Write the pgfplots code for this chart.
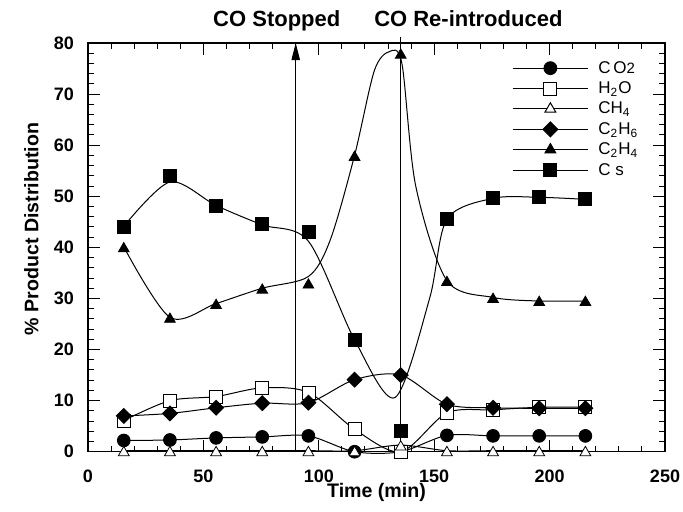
\documentclass[border=0pt]{standalone}
\usepackage{pgfplots}
\pgfplotsset{compat=1.18}
\usepackage{pgfplotstable}
\usepackage{fontspec}
\setmainfont{Liberation Sans}
\usetikzlibrary{arrows.meta}

% product distribution, measured points
\pgfplotstableread{
t     co2  h2o  ch4  c2h6  c2h4  cs
15.5  2.2  6.1  0.2  7.0   40.1  44.1
35.5  2.3  10.0 0.2  7.5   26.3  54.0
55.5  2.7  10.8 0.2  8.6   29.0  48.2
75.5  2.9  12.5 0.2  9.5   32.0  44.5
95.5  3.1  11.6 0.2  9.6   33.0  43.0
115.5 0.0  4.4  0.2  14.1  58.0  21.9
135.5 0.0  0.0  1.3  15.0  78.0  4.0
155.5 3.2  7.6  0.2  9.3   33.5  45.5
175.5 3.1  8.2  0.2  8.6   30.2  49.6
195.5 3.1  8.7  0.2  8.5   29.6  49.8
215.5 3.1  8.7  0.2  8.5   29.6  49.4
}\products

% smoothed trend curves for C2H4 and carbon
\pgfplotstableread{
t     y
15.5  40.1
35.5  26.3
55.5  29.0
75.5  32.0
95.5  34.3
105   41.5
115.5 58.0
124   74.5
130.5 78.3
136   76.0
142   52.0
155.5 33.5
175.5 30.2
195.5 29.5
215.5 29.5
}\ethylenecurve

\pgfplotstableread{
t     y
15.5  44.1
35.5  52.8
55.5  48.2
75.5  44.4
95.5  41.2
115.5 21.9
133   10.6
148   30.0
155.5 45.5
175.5 49.6
195.5 49.8
215.5 49.4
}\carboncurve

\tikzset{
  curve/.style={black, line width=0.5pt, smooth, no markers},
  mk/.style={only marks, mark options={solid, draw=black, line width=0.5pt}},
}

\begin{document}
\begin{tikzpicture}
\useasboundingbox (-44pt,-29.65pt) rectangle (297.5pt,225.85pt);
\begin{axis}[
  anchor=south west, at={(0,0)},
  width=288.5pt, height=204.35pt, scale only axis,
  xmin=0, xmax=250, ymin=0, ymax=80,
  xtick={0,50,...,250}, ytick={0,10,...,80},
  minor x tick num=4, minor y tick num=4,
  tick align=inside,
  major tick length=6pt, minor tick length=3pt,
  tick style={black, line width=0.5pt},
  axis line style={line width=0.6pt},
  ticklabel style={font=\fontsize{9}{10}\selectfont\bfseries},
  /pgf/number format/assume math mode=true,
  xticklabel style={yshift=-5.5pt},
  yticklabel style={xshift=-3.5pt},
  xlabel={Time (min)}, ylabel={\% Product Distribution},
  label style={font=\fontsize{9.8}{11}\selectfont\bfseries},
  xlabel style={at={(axis description cs:0.5,-0.099)}, anchor=center},
  ylabel style={at={(axis description cs:-0.098,0.545)}, anchor=center},
  clip=false,
  legend style={draw=none, fill=none, at={(axis cs:183.7,76.8)}, anchor=north west,
    inner sep=0pt, row sep=1.8pt, column sep=5pt,
    font=\fontsize{8.5}{10}\selectfont,
    nodes={inner xsep=0pt, inner ysep=0pt, text height=6.7pt, text depth=1.7pt}},
  legend cell align=left,
  legend image code/.code={\draw[mark repeat=2,mark phase=2,#1]
    plot coordinates {(0pt,0pt) (18.75pt,0pt) (37.5pt,0pt)};},
]
% legend entries
\addlegendimage{black, line width=0.5pt, mark=*, mark size=3.2pt, mark options={solid, fill=black}}
\addlegendentry{C\,O{\fontsize{7.5}{8}\selectfont 2}}
\addlegendimage{black, line width=0.5pt, mark=square*, mark size=3.25pt, mark options={solid, fill=white}}
\addlegendentry{H\textsubscript{2}O}
\addlegendimage{black, line width=0.5pt, mark=triangle*, mark size=3.1pt, mark options={solid, fill=white}}
\addlegendentry{CH\textsubscript{4}}
\addlegendimage{black, line width=0.5pt, mark=square*, mark size=2.65pt, mark options={solid, fill=black, rotate=45}}
\addlegendentry{C\textsubscript{2}H\textsubscript{6}}
\addlegendimage{black, line width=0.5pt, mark=triangle*, mark size=3.1pt, mark options={solid, fill=black}}
\addlegendentry{C\textsubscript{2}H\textsubscript{4}}
\addlegendimage{black, line width=0.5pt, mark=square*, mark size=3.25pt, mark options={solid, fill=black}}
\addlegendentry{C s}

% CO switched off / back on
\addplot[forget plot, black, line width=0.5pt, -{Triangle[length=8.5pt,width=4.2pt]}]
  coordinates {(90,0) (90,80)};
\addplot[forget plot, black, line width=0.5pt] coordinates {(135.5,0) (135.5,81.2)};

% trend curves
\addplot[forget plot, curve] table[x=t, y=co2] {\products};
\addplot[forget plot, curve] table[x=t, y=h2o] {\products};
\addplot[forget plot, curve] table[x=t, y=ch4] {\products};
\addplot[forget plot, curve] table[x=t, y=c2h6] {\products};
\addplot[forget plot, curve] table[x=t, y=y] {\ethylenecurve};
\addplot[forget plot, curve] table[x=t, y=y] {\carboncurve};

% measured points
\addplot[forget plot, mk, mark=*, mark size=3.2pt, mark options={fill=black}]
  table[x=t, y=co2] {\products};
\addplot[forget plot, mk, mark=square*, mark size=3.25pt, mark options={fill=white}]
  table[x=t, y=h2o] {\products};
\addplot[forget plot, mk, mark=triangle*, mark size=3.1pt, mark options={fill=white, yshift=-0.93pt}]
  table[x=t, y=ch4] {\products};
\addplot[forget plot, mk, mark=square*, mark size=2.65pt, mark options={fill=black, rotate=45}]
  table[x=t, y=c2h6] {\products};
\addplot[forget plot, mk, mark=triangle*, mark size=3.1pt, mark options={fill=black, yshift=-0.93pt}]
  table[x=t, y=c2h4] {\products};
\addplot[forget plot, mk, mark=square*, mark size=3.25pt, mark options={fill=black}]
  table[x=t, y=cs] {\products};

% annotations
\node[anchor=base, font=\fontsize{11}{13}\selectfont\bfseries] at (axis cs:81.8,83.2) {CO Stopped};
\node[anchor=base, font=\fontsize{11}{13}\selectfont\bfseries] at (axis cs:164.8,83.2) {CO Re-introduced};
\end{axis}
\end{tikzpicture}
\end{document}
